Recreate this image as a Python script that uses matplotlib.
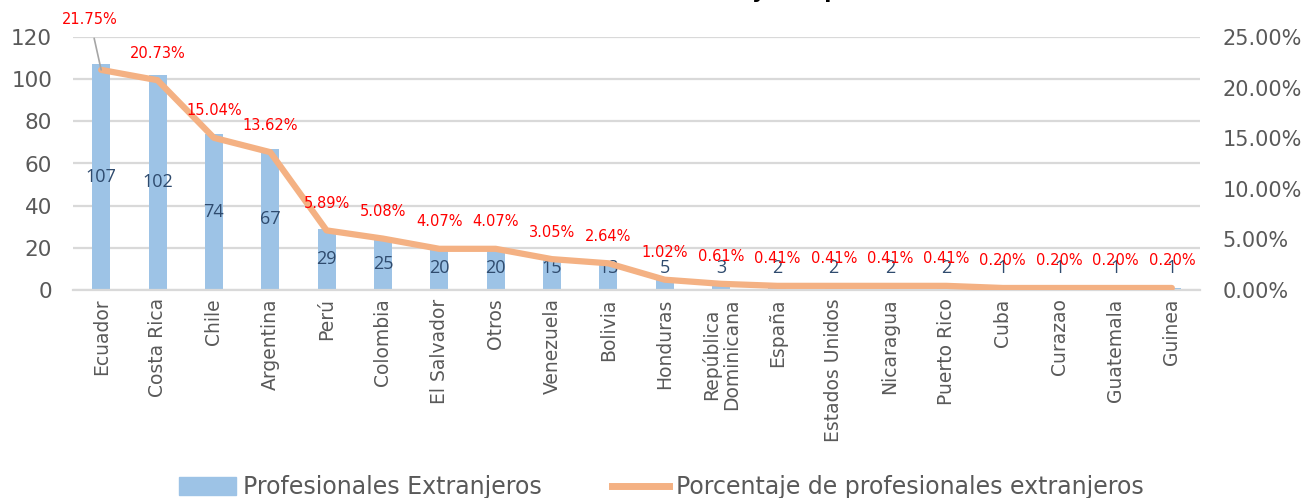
import matplotlib
matplotlib.use("Agg")
import matplotlib.pyplot as plt
from matplotlib.ticker import FuncFormatter

# data
countries = ["Ecuador", "Costa Rica", "Chile", "Argentina", "Perú", "Colombia",
             "El Salvador", "Otros", "Venezuela", "Bolivia", "Honduras",
             "República\nDominicana", "España", "Estados Unidos", "Nicaragua",
             "Puerto Rico", "Cuba", "Curazao", "Guatemala", "Guinea"]
profesionales = [107, 102, 74, 67, 29, 25, 20, 20, 15, 13, 5, 3, 2, 2, 2, 2, 1, 1, 1, 1]
porcentaje = [21.75, 20.73, 15.04, 13.62, 5.89, 5.08, 4.07, 4.07, 3.05, 2.64, 1.02,
              0.61, 0.41, 0.41, 0.41, 0.41, 0.20, 0.20, 0.20, 0.20]
left_ticks = [0, 20, 40, 60, 80, 100, 120]
right_ticks = [0, 5, 10, 15, 20, 25]

bar_color = "#9DC3E6"
line_color = "#F4B183"
grid_color = "#D9D9D9"
tick_color = "#595959"

fig = plt.figure(figsize=(13.1, 4.98), dpi=100)
ax = fig.add_axes([73 / 1310, 208 / 498, 1127 / 1310, 253 / 498])
ax2 = ax.twinx()

x = list(range(len(countries)))

# bars on the left axis
ax.set_axisbelow(True)
ax.bar(x, profesionales, width=0.32, color=bar_color, zorder=2)
ax.set_ylim(0, 120)
ax.set_xlim(-0.5, len(countries) - 0.5)
ax.set_yticks(left_ticks)
ax.yaxis.grid(True, color=grid_color, linewidth=1.6)
ax.tick_params(axis="y", length=0, labelsize=15.5, labelcolor=tick_color, pad=15)
ax.tick_params(axis="x", length=0, pad=6)
ax.set_xticks(x)
ax.set_xticklabels(countries, rotation=90, fontsize=13.5, color=tick_color,
                   va="top", ha="center", linespacing=1.05)
for s in ax.spines.values():
    s.set_visible(False)
ax.spines["bottom"].set_visible(True)
ax.spines["bottom"].set_color(grid_color)
ax.spines["bottom"].set_linewidth(1.6)

for xi, v in zip(x, profesionales):
    ax.text(xi, max(v / 2, 10.3), str(v), ha="center", va="center",
            fontsize=13, color="#2F4B6E", family="Open Sans", zorder=5)

# percentage line on the right axis
ax2.plot(x, porcentaje, color=line_color, linewidth=4.5, solid_capstyle="round",
         solid_joinstyle="round", zorder=3)
ax2.set_ylim(0, 25)
ax2.set_yticks(right_ticks)
ax2.yaxis.set_major_formatter(FuncFormatter(lambda v, p: f"{v:.2f}%"))
ax2.tick_params(axis="y", length=0, labelsize=15, labelcolor=tick_color, pad=16)
for s in ax2.spines.values():
    s.set_visible(False)

for xi, p in zip(x, porcentaje):
    if xi == 0:
        ax2.annotate(f"{p:.2f}%", xy=(xi, p), xytext=(-8, 36), textcoords="offset points",
                     ha="center", va="center", fontsize=10.5, color="#FF0000",
                     arrowprops=dict(arrowstyle="-", color="#A6A6A6", lw=1.2,
                                     shrinkA=6, shrinkB=0))
    else:
        ax2.annotate(f"{p:.2f}%", xy=(xi, p), xytext=(0, 19.5), textcoords="offset points",
                     ha="center", va="center", fontsize=10.5, color="#FF0000")

# title sits mostly above the canvas, only descenders show
fig.text(752 / 1310, 1.004, "Nacionalidad ", ha="right", va="baseline",
         fontsize=15, fontweight="bold", color="black")
fig.text(752 / 1310, 1.004, "y Composición", ha="left", va="baseline",
         fontsize=15, fontweight="bold", color="black")

# legend
h1 = plt.Rectangle((0, 0), 1, 1, color=bar_color)
h2 = plt.Line2D([0], [0], color=line_color, linewidth=5)
leg = fig.legend([h1, h2], ["Profesionales Extranjeros", "Porcentaje de profesionales extranjeros"],
                 loc="lower center", bbox_to_anchor=(0.505, -0.045), ncol=2, frameon=False,
                 fontsize=17, handlelength=2.4, handleheight=0.75, columnspacing=3.0,
                 handletextpad=0.3)
for t in leg.get_texts():
    t.set_color(tick_color)

fig.savefig("out.png", dpi=100)
